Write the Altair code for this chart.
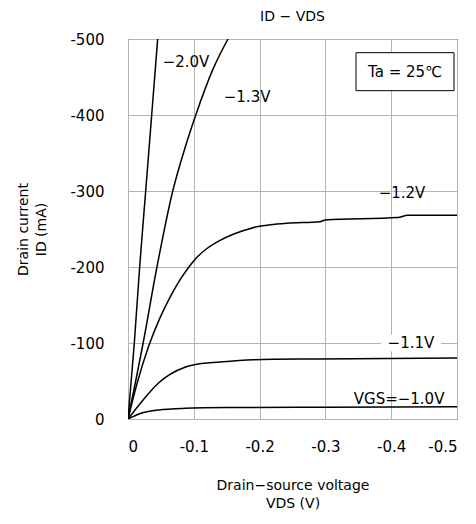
import altair as alt
import pandas as pd

FONT = "DejaVu Sans"

# Series data (VDS in V, ID in mA)
vds_m20 = [0, -0.0096, -0.0177, -0.0269, -0.036, -0.0451]
id_m20 = [0, -100, -200, -300, -400, -500]

vds_m13 = [0, -0.023, -0.044, -0.068, -0.086, -0.103, -0.129, -0.152]
id_m13 = [0, -100, -200, -300, -355, -400, -460, -500]

vds_m12 = [0, -0.0132, -0.0319, -0.0486, -0.0638, -0.079, -0.0917, -0.1018, -0.1195, -0.14, -0.16, -0.18,
           -0.1956, -0.2158, -0.241, -0.292, -0.3, -0.41, -0.425, -0.5]
id_m12 = [0, -45, -97, -133, -160, -183, -199, -210, -224, -235, -243, -249,
          -253, -255.5, -257.5, -259.6, -262, -265, -268, -268]

vds_m11 = [0, -0.0208, -0.046, -0.0866, -0.099, -0.14, -0.19, -0.29, -0.5]
id_m11 = [0, -22.8, -47, -68, -71, -75, -78, -79, -80.3]

vds_m10 = [0, -0.0167, -0.046, -0.0866, -0.15, -0.3, -0.5]
id_m10 = [0, -6.6, -11.8, -14, -15, -15.5, -16]

x_ticks = [0, -0.1, -0.2, -0.3, -0.4, -0.5]
y_ticks = [0, -100, -200, -300, -400, -500]

label_text = ["\u22122.0V", "\u22121.3V", "\u22121.2V", "\u22121.1V", "VGS=\u22121.0V"]
label_x = [-0.0881, -0.181, -0.4164, -0.430, -0.412]
label_y = [-469.7, -423.7, -297.4, -100, -26.3]

rows = []
for name, xs, ys in [("-2.0", vds_m20, id_m20), ("-1.3", vds_m13, id_m13),
                     ("-1.2", vds_m12, id_m12), ("-1.1", vds_m11, id_m11),
                     ("-1.0", vds_m10, id_m10)]:
    for i, (a, b) in enumerate(zip(xs, ys)):
        rows.append({"series": name, "vds": a, "id": b, "order": i})
df = pd.DataFrame(rows)

xscale = alt.Scale(domain=[0, -0.5], nice=False)
yscale = alt.Scale(domain=[0, -500], nice=False)

xaxis = alt.Axis(values=x_ticks, title=["Drain\u2212source voltage", "VDS (V)"],
                 labelExpr="datum.value == 0 ? '0' : '-' + format(abs(datum.value), '.1f')",
                 titleY=66, titleBaseline="middle")
yaxis = alt.Axis(values=y_ticks, title=["Drain current", "ID (mA)"],
                 labelExpr="datum.value == 0 ? '0' : '-' + format(abs(datum.value), 'd')",
                 titleX=-105, titleY=190, titleBaseline="middle", titleAngle=-90)

lines = alt.Chart(df).mark_line(color="black", strokeWidth=1.5, interpolate="monotone", clip=True).encode(
    x=alt.X("vds:Q", scale=xscale, axis=xaxis),
    y=alt.Y("id:Q", scale=yscale, axis=yaxis),
    detail="series:N",
    order="order:Q",
)

# white background behind -1.1V label
bg = alt.Chart(pd.DataFrame({"x": [-0.3845], "x2": [-0.4757], "y": [-89], "y2": [-111]})).mark_rect(
    fill="white").encode(x="x:Q", x2="x2:Q", y="y:Q", y2="y2:Q")

labels_df = pd.DataFrame({"t": label_text, "x": label_x, "y": label_y})
labels = alt.Chart(labels_df).mark_text(font=FONT, fontSize=15, color="black", align="center",
                                        baseline="middle").encode(
    x="x:Q", y="y:Q", text="t:N")

box = alt.Chart(pd.DataFrame({"x": [-0.3465], "x2": [-0.4954], "y": [-432], "y2": [-482]})).mark_rect(
    fill="white", stroke="black", strokeWidth=1).encode(x="x:Q", x2="x2:Q", y="y:Q", y2="y2:Q")
box_text = alt.Chart(pd.DataFrame({"t": ["Ta = 25\u2103"], "x": [-0.421], "y": [-457]})).mark_text(
    font=FONT, fontSize=15, color="black", align="center", baseline="middle").encode(
    x="x:Q", y="y:Q", text="t:N")

chart = alt.layer(lines, bg, labels, box, box_text).properties(
    width=329, height=380,
    title=alt.TitleParams("ID \u2212 VDS", fontSize=14, fontWeight="normal", font=FONT, offset=8, color="black"),
    autosize=alt.AutoSizeParams(type="none"),
    padding={"left": 120, "top": 31, "right": 11, "bottom": 97},
).configure_view(stroke="black", strokeWidth=1).configure_axis(
    grid=True, gridColor="#b4b4b4", gridWidth=1, domain=False, ticks=False,
    labelFont=FONT, labelFontSize=15, labelColor="black",
    titleFont=FONT, titleFontSize=14, titleFontWeight="normal", titleColor="black", titleLineHeight=18,
).configure_axisX(labelPadding=20).configure_axisY(labelPadding=24)

chart.save("out.html", embed_options={"renderer": "svg", "actions": False})
